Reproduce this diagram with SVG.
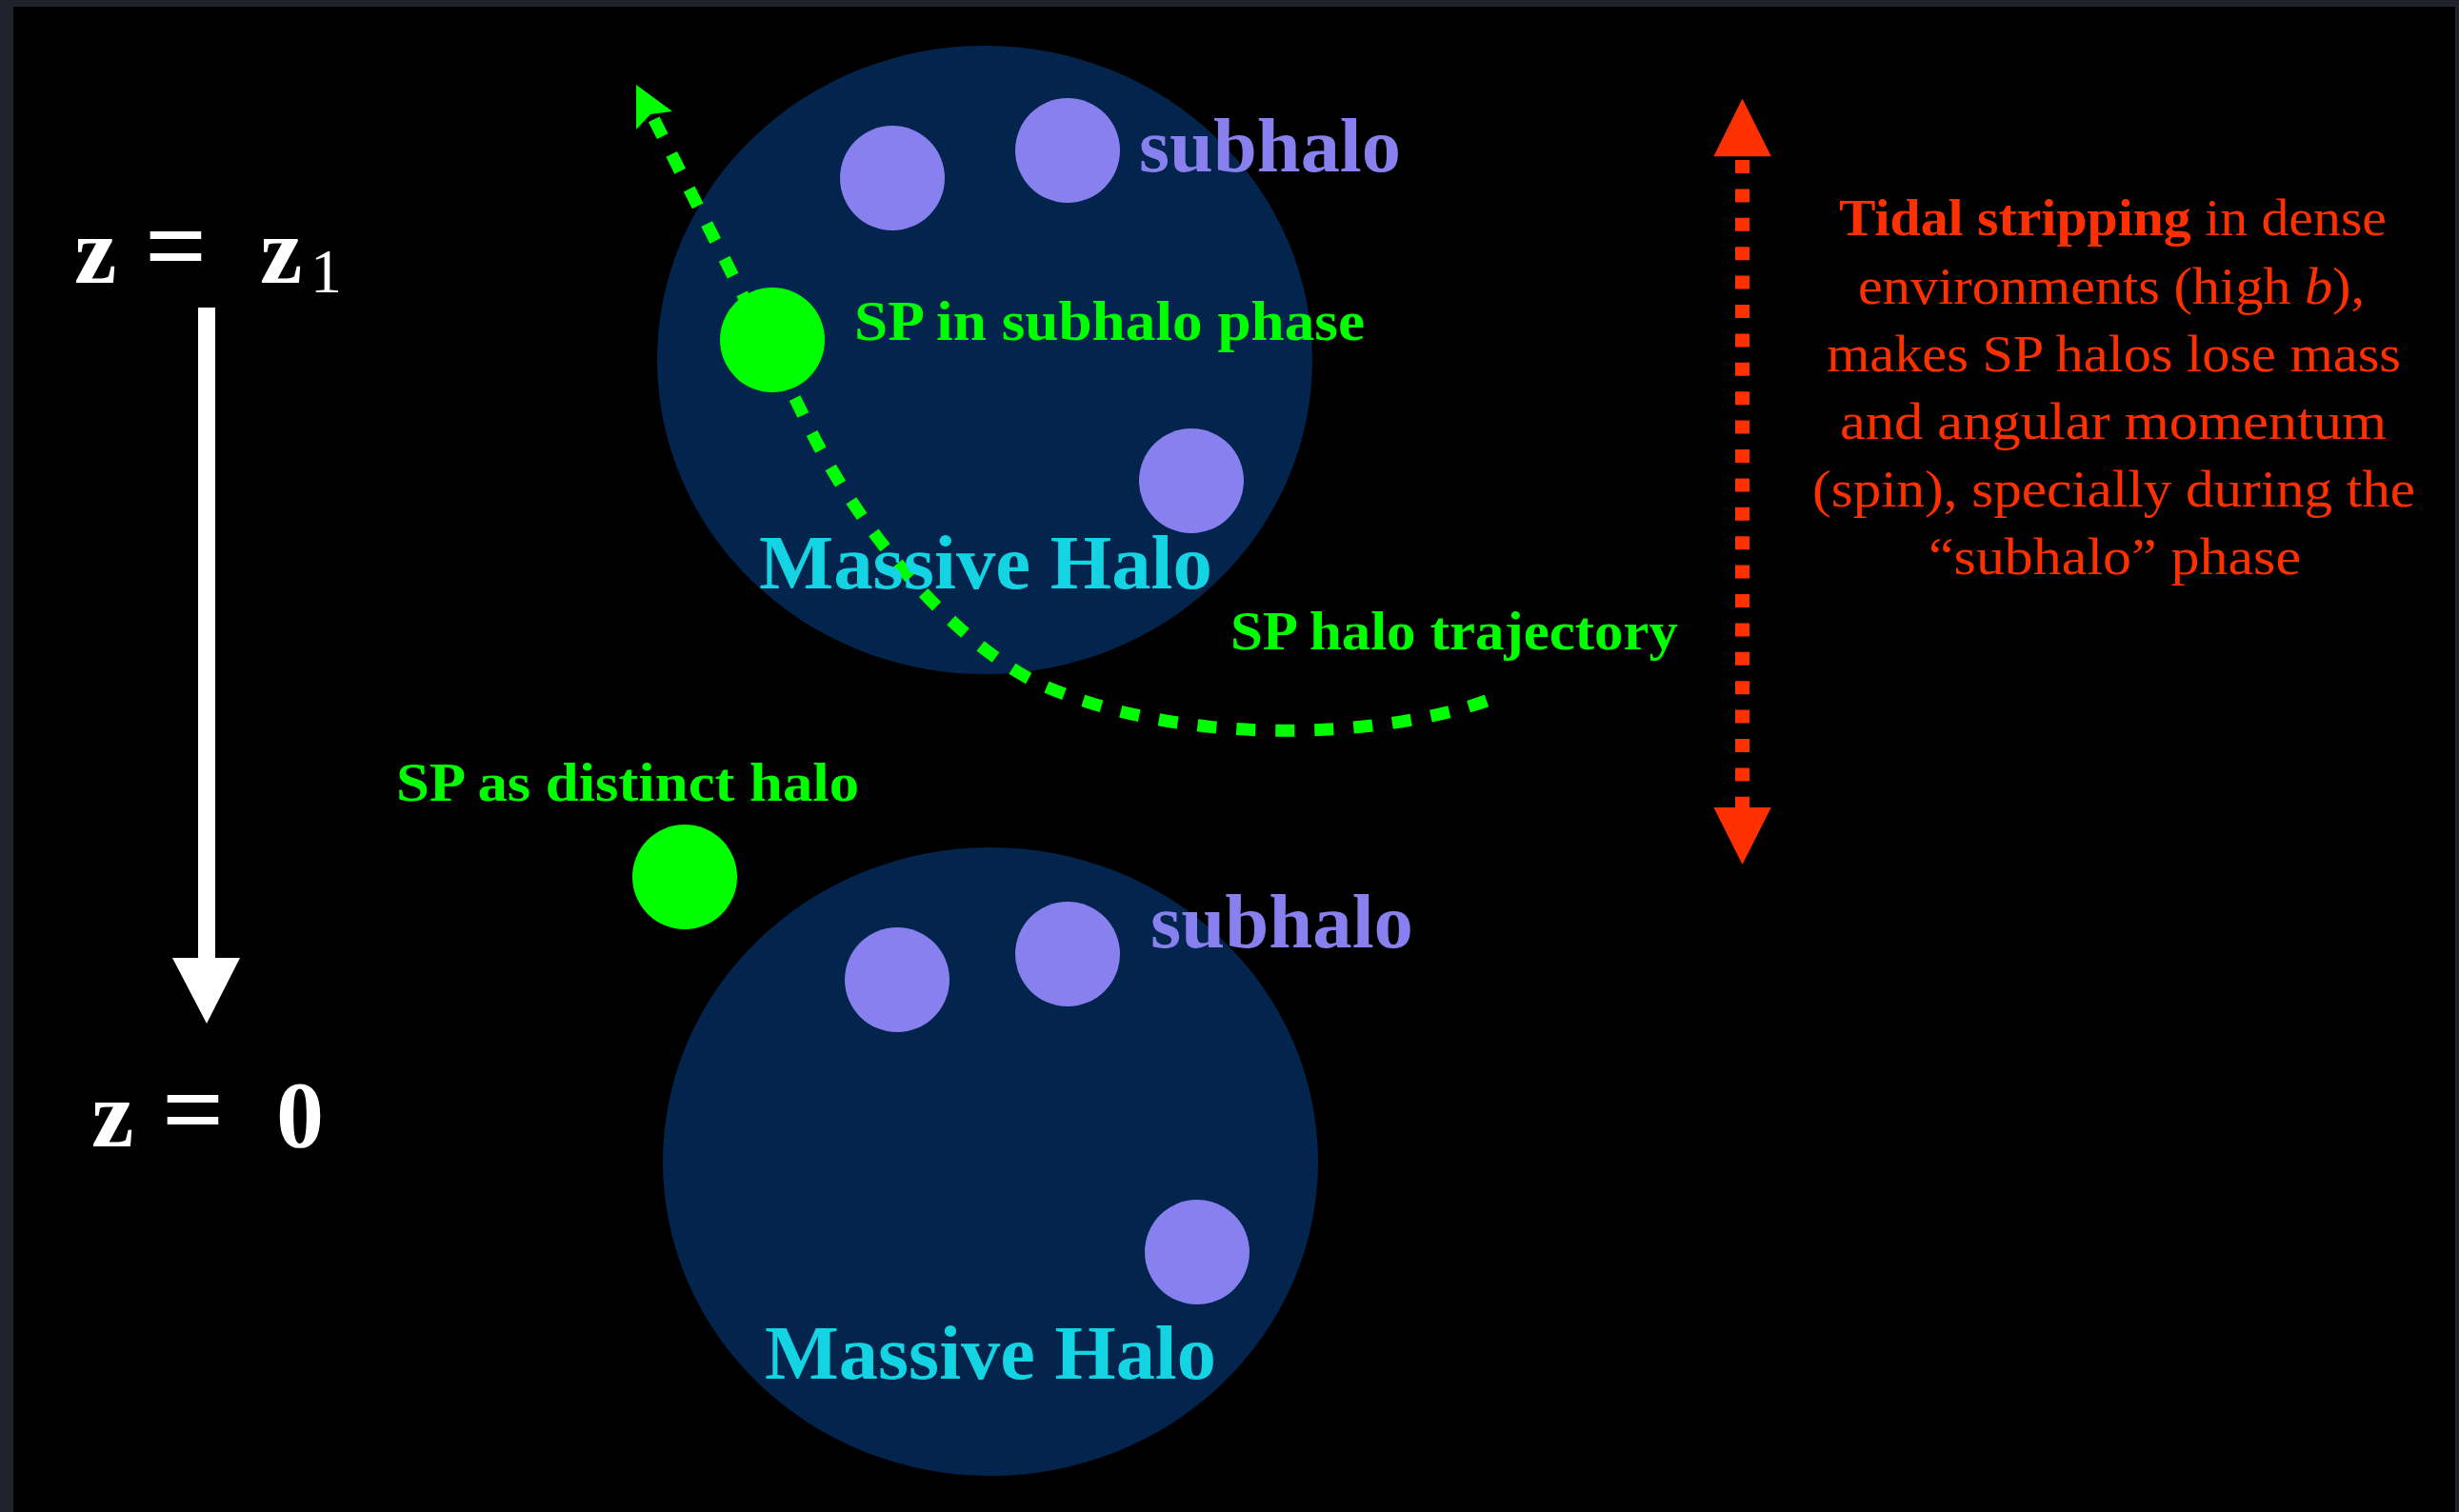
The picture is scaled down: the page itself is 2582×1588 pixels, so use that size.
<svg xmlns="http://www.w3.org/2000/svg" width="2582" height="1588" viewBox="0 0 2582 1588">
<style>
.serif{font-family:"Liberation Serif","Times New Roman",serif}
.halo{fill:#02244d}
.sub{fill:#8880ee}
.sp{fill:#00ff00}
.lbl-green{fill:#00ff00;font-weight:bold}
.lbl-sub{fill:#8880ee;font-weight:bold;font-size:80px}
.lbl-mass{fill:#14d4e4;font-weight:bold;font-size:80px}
.red{fill:#ff3000;font-size:54px}
.white{fill:#ffffff}
</style>
<rect x="0" y="0" width="2582" height="1588" fill="#22222c"/>
<rect x="14" y="7" width="2564" height="1581" fill="#000000"/>

<g id="massive-halo-top">
  <ellipse class="halo" cx="1034" cy="378" rx="344" ry="330"/>
</g>
<g id="massive-halo-bottom">
  <ellipse class="halo" cx="1040" cy="1220" rx="344" ry="330"/>
</g>
<g id="subhalos-top">
  <circle class="sub" cx="937" cy="187" r="55"/>
  <circle class="sub" cx="1121" cy="158" r="55"/>
  <circle class="sub" cx="1251" cy="505" r="55"/>
</g>
<g id="subhalos-bottom">
  <circle class="sub" cx="942" cy="1029" r="55"/>
  <circle class="sub" cx="1121" cy="1002" r="55"/>
  <circle class="sub" cx="1257" cy="1315" r="55"/>
</g>

<g id="connectors">
  <path d="M1561 736 C1450 775 1250 785 1100 722 C1010 684 900 560 841 431 L683 118" fill="none" stroke="#00ff00" stroke-width="13" stroke-dasharray="20 21"/>
  <polygon points="668,89 668,136 683,120 706,117" fill="#00ff00"/>
  <line x1="1829.5" y1="168" x2="1829.5" y2="850" stroke="#ff3000" stroke-width="15" stroke-dasharray="14 16.4"/>
  <polygon points="1829.5,103.6 1859.8,164.3 1799.4,164.3" fill="#ff3000"/>
  <polygon points="1829.5,908 1859.8,848 1799.4,848" fill="#ff3000"/>
  <rect x="208" y="323" width="18" height="685" fill="#ffffff"/>
  <polygon points="181,1006 252,1006 217,1075" fill="#ffffff"/>
</g>

<g id="sp-top">
  <circle class="sp" cx="811" cy="357" r="55"/>
  <text class="serif lbl-green" x="897" y="357" font-size="60" textLength="536" lengthAdjust="spacingAndGlyphs">SP in subhalo phase</text>
</g>
<g id="sp-bottom">
  <circle class="sp" cx="719" cy="921" r="55"/>
  <text class="serif lbl-green" x="416" y="841" font-size="58" textLength="486" lengthAdjust="spacingAndGlyphs">SP as distinct halo</text>
</g>
<g id="labels">
  <text class="serif lbl-sub" x="1196" y="180" textLength="275" lengthAdjust="spacingAndGlyphs">subhalo</text>
  <text class="serif lbl-sub" x="1208" y="995" textLength="276" lengthAdjust="spacingAndGlyphs">subhalo</text>
  <text class="serif lbl-mass" x="797" y="618" textLength="476" lengthAdjust="spacingAndGlyphs">Massive Halo</text>
  <text class="serif lbl-mass" x="803" y="1448" textLength="474" lengthAdjust="spacingAndGlyphs">Massive Halo</text>
  <text class="serif lbl-green" x="1292" y="682" font-size="58" textLength="470" lengthAdjust="spacingAndGlyphs">SP halo trajectory</text>
</g>

<g id="redshift-axis" class="serif white" font-size="100" font-weight="bold">
  <text y="297"><tspan x="78">z</tspan><tspan x="152" font-size="115">=</tspan><tspan x="273">z</tspan><tspan x="326" y="307" font-size="66" font-weight="normal">1</tspan></text>
  <text y="1204"><tspan x="96">z</tspan><tspan x="170" font-size="115">=</tspan><tspan x="290">0</tspan></text>
</g>

<g id="tidal-note" class="serif red">
  <text x="1931" y="247" textLength="575" lengthAdjust="spacingAndGlyphs"><tspan font-weight="bold">Tidal stripping</tspan> in dense</text>
  <text x="1951" y="318.6" textLength="532" lengthAdjust="spacingAndGlyphs">environments (high <tspan font-style="italic">b</tspan>),</text>
  <text x="1918" y="390" textLength="603" lengthAdjust="spacingAndGlyphs">makes SP halos lose mass</text>
  <text x="1932" y="461" textLength="574" lengthAdjust="spacingAndGlyphs">and angular momentum</text>
  <text x="1903" y="532" textLength="633" lengthAdjust="spacingAndGlyphs">(spin), specially during the</text>
  <text x="2025" y="602.5" textLength="391" lengthAdjust="spacingAndGlyphs">“subhalo” phase</text>
</g>
</svg>
